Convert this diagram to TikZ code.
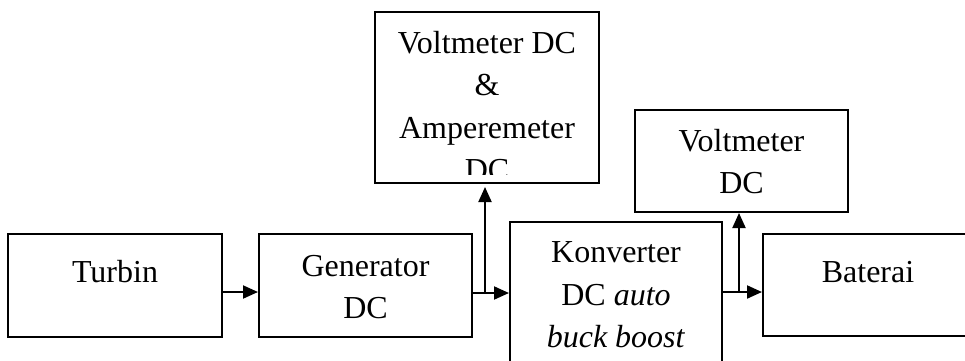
\documentclass[tikz,border=0pt]{standalone}
\usepackage{fontspec}
\setmainfont{Liberation Serif}
\usetikzlibrary{arrows.meta}
\begin{document}
\begin{tikzpicture}[x=1pt,y=-1pt,
 box/.style={draw,line width=2pt,inner sep=0pt,outer sep=0pt},
 txt/.style={font=\fontsize{32}{42.5}\selectfont,align=center,inner sep=0pt},
 arr/.style={line width=2pt,-{Triangle[length=15pt,width=13pt]}}]
\useasboundingbox (0,0) rectangle (965,360);
\clip (0,0) rectangle (965,360);
% boxes
\node[box,minimum width=214pt,minimum height=103pt] (turb) at (115,285.5) {};
\node[box,minimum width=213pt,minimum height=103pt] (gen) at (365.5,285.5) {};
\node[box,minimum width=212pt,minimum height=178pt] (konv) at (616,311) {};
\node[box,minimum width=212pt,minimum height=102pt] (bat) at (869,285) {};
\node[box,minimum width=224pt,minimum height=171pt] (amp) at (487,97.5) {};
\node[box,minimum width=213pt,minimum height=102pt] (volt) at (741.5,161) {};
% texts
\node[txt] (tturb) at (115,272) {Turbin};
\node[txt] (tgen) at (365.5,287) {Generator\\DC};
\node[txt] (tkonv) at (616,295) {Konverter\\DC \textit{auto}\\\textit{buck boost}};
\node[txt] (tbat) at (868,272) {Baterai};
\node[txt] (tvolt) at (741.5,161.5) {Voltmeter\\DC};
\begin{scope}
\clip (amp.north west) rectangle ([yshift=9pt]amp.south east);
\node[txt] (tamp) at (487,106) {Voltmeter DC\\\&\\Amperemeter\\DC};
\end{scope}
% connectors
\coordinate (a1) at (0,292);
\coordinate (j1) at (485,293);
\coordinate (j2) at (739,292);
\draw[arr] (turb.east |- a1) -- ([xshift=-1pt]gen.west |- a1);
\draw[arr] (gen.east |- j1) -- ([xshift=-1pt]konv.west |- j1);
\draw[arr] (j1) -- ([yshift=-4pt]amp.south -| j1);
\draw[arr] (konv.east |- j2) -- ([xshift=-1pt]bat.west |- j2);
\draw[arr] (j2) -- ([yshift=-1pt]volt.south -| j2);
\end{tikzpicture}
\end{document}
